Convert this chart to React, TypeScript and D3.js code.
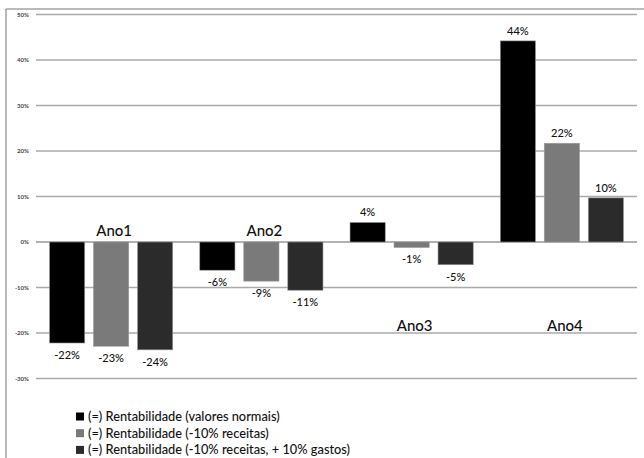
import React from "react";
import * as d3 from "d3";

const categories = ["Ano1", "Ano2", "Ano3", "Ano4"];
const seriesNames = [
  "(=) Rentabilidade (valores normais)",
  "(=) Rentabilidade (-10% receitas)",
  "(=) Rentabilidade (-10% receitas, + 10% gastos)",
];
const normais = [-0.222, -0.062, 0.043, 0.442];
const receitas = [-0.229, -0.086, -0.012, 0.217];
const gastos = [-0.237, -0.106, -0.05, 0.097];
const yTicks = [-0.3, -0.2, -0.1, 0, 0.1, 0.2, 0.3, 0.4, 0.5];
const colors = ["#000000", "#7a7a7a", "#2b2b2b"];

const W = 644;
const H = 458;
const FONT = "Lato, 'Liberation Sans', sans-serif";

export default function App() {
  const series = [normais, receitas, gastos];
  const x0 = d3.scaleBand<string>().domain(categories).range([36, 637]).paddingInner(0.18).paddingOuter(0.09);
  const x1 = d3.scaleBand<number>().domain([0, 1, 2]).range([0, x0.bandwidth()]).paddingInner(0.2);
  const y = d3.scaleLinear().domain([-0.3, 0.5]).range([378.5, 14.5]);
  const fmt = (v: number) => `${Math.round(v * 100)}%`;
  const catLabelY = [236, 236, 331, 331];

  return (
    <svg width={W} height={H} style={{ position: "absolute", left: 0, top: 0, background: "#fff" }}>
      <line x1={6} y1={9} x2={W} y2={9} stroke="#777" strokeWidth={1.2} />
      <line x1={6} y1={9} x2={6} y2={H} stroke="#888" strokeWidth={1.2} />
      {yTicks.map((t) => (
        <g key={t}>
          <line x1={36} x2={637} y1={y(t)} y2={y(t)} stroke={t === 0 ? "#999" : "#aaa"} strokeWidth={1.4} />
          <text x={29} y={y(t) + 2.2} textAnchor="end" fontSize={6} fontWeight="bold" fill="#444" fontFamily={FONT}>
            {fmt(t)}
          </text>
        </g>
      ))}
      {categories.map((c, ci) => (
        <g key={c}>
          {series.map((s, si) => {
            const v = s[ci];
            const bx = (x0(c) as number) + (x1(si) as number);
            const top = y(Math.max(0, v));
            const bot = y(Math.min(0, v));
            const cx = bx + x1.bandwidth() / 2;
            return (
              <g key={si}>
                <rect x={bx} y={top} width={x1.bandwidth()} height={bot - top} fill={colors[si]} stroke="#999" strokeWidth={0.6} />
                <text
                  x={cx}
                  y={v >= 0 ? top - 6 : bot + 16}
                  textAnchor="middle"
                  fontSize={11}
                  fontWeight={500}
                  fill="#111"
                  fontFamily={FONT}
                >
                  {fmt(v)}
                </text>
              </g>
            );
          })}
          <text
            x={(x0(c) as number) + x0.bandwidth() / 2 + 3}
            y={catLabelY[ci]}
            textAnchor="middle"
            fontSize={15}
            fontWeight={500}
            fill="#111"
            fontFamily={FONT}
          >
            {c}
          </text>
        </g>
      ))}
      {seriesNames.map((n, i) => (
        <g key={n}>
          <rect x={76} y={412.5 + i * 16.7} width={8} height={8} fill={colors[i]} />
          <text x={88} y={421 + i * 16.7} fontSize={12.8} fontWeight={500} fill="#111" fontFamily={FONT}>
            {n}
          </text>
        </g>
      ))}
    </svg>
  );
}
